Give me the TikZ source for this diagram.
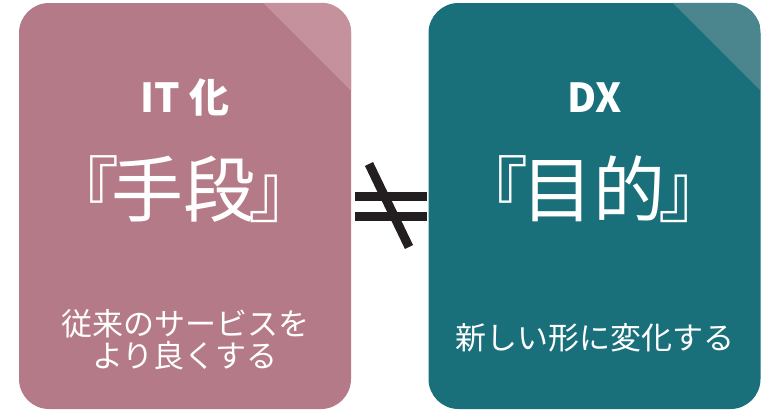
\documentclass[tikz,border=0pt]{standalone}
\usepackage{fontspec}
\setmainfont{Noto Sans CJK JP}
\definecolor{pinkc}{HTML}{B57A88}
\definecolor{pinkf}{HTML}{C4919C}
\definecolor{tealc}{HTML}{19707A}
\definecolor{tealf}{HTML}{4B858D}
\definecolor{signc}{HTML}{231F20}
\tikzset{
  card/.style={minimum width=332pt, minimum height=406pt, inner sep=0pt, rounded corners=30pt, draw=none},
  head/.style={text=white, font=\fontsize{40}{44}\selectfont\bfseries, inner sep=0pt},
  big/.style={text=white, font=\fontsize{72}{78}\selectfont, inner sep=0pt, xshift=15pt},
  sub/.style={text=white, font=\fontsize{31}{32}\selectfont, inner sep=0pt, align=center},
  bar/.style={draw=signc, line width=9pt}
}
\newcommand{\brk}[1]{\hspace{-0.45em}『\hspace{-0.1em}#1\hspace{-0.1em}』\hspace{-0.45em}}
\begin{document}
\begin{tikzpicture}[x=1pt,y=-1pt]
\useasboundingbox (0,0) rectangle (763,416);
\node[card, fill=pinkc] (L) at (185,206) {};
\node[card, fill=tealc] (R) at (594.5,206) {};
\begin{scope}
\clip[rounded corners=30pt] (L.south west) rectangle (L.north east);
\fill[pinkf] (L.north east) -- ++(-88,0) -- ++(88,88) -- cycle;
\end{scope}
\begin{scope}
\clip[rounded corners=30pt] (R.south west) rectangle (R.north east);
\fill[tealf] (R.north east) -- ++(-88,0) -- ++(88,88) -- cycle;
\end{scope}
\node[head] (Lh) at (185,97) {IT 化};
\node[big] (Lb) at (185,189) {\brk{手段}};
\node[sub] (Ls) at (185,340) {従来のサービスを\\より良くする};
\node[head] (Rh) at (594.5,98) {DX};
\node[big] (Rb) at (594.5,189) {\brk{目的}};
\node[sub] (Rs) at (594.5,338) {新しい形に変化する};
\coordinate (b1a) at (355,196.5);
\coordinate (b1b) at (427,196.5);
\coordinate (b2a) at (355,216.5);
\coordinate (b2b) at (427,216.5);
\coordinate (sa) at (369,164);
\coordinate (sb) at (409,247);
\draw[bar] (b1a) -- (b1b);
\draw[bar] (b2a) -- (b2b);
\draw[bar] (sa) -- (sb);
\end{tikzpicture}
\end{document}
